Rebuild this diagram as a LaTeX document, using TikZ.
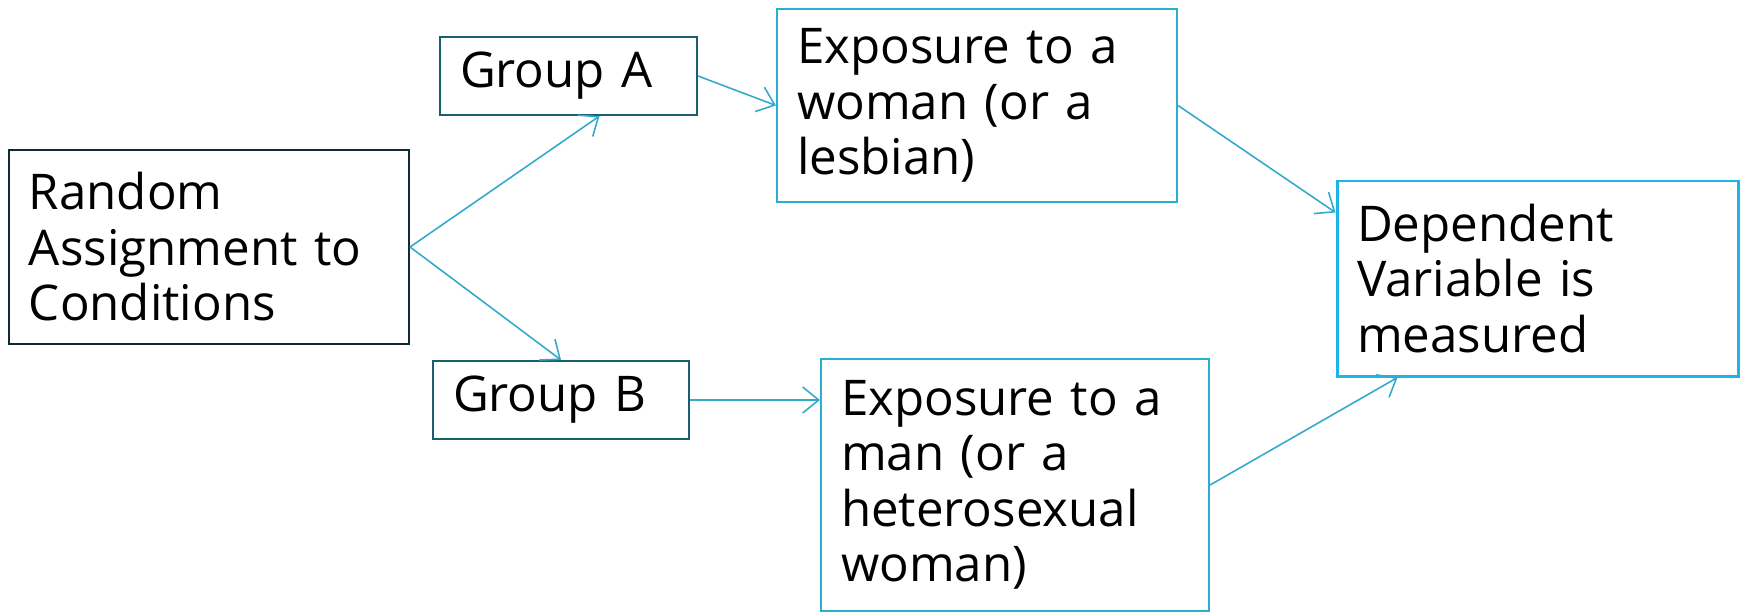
\documentclass[tikz,border=0pt]{standalone}
\usepackage{fontspec}
\setmainfont{Open Sans}
\usepackage{tikz}
\usetikzlibrary{arrows.meta,positioning}
\usepackage{xcolor}
\definecolor{rdark}{RGB}{15,42,51}
\definecolor{rteal}{RGB}{27,94,112}
\definecolor{rcyan}{RGB}{42,175,208}
\definecolor{rbright}{RGB}{27,182,230}
\definecolor{rarrow}{RGB}{52,170,203}
\tikzstyle{box} = [rectangle, line width=0.6pt, fill=white, inner xsep=0.2cm, inner ysep=0pt, align=left, font=\fontsize{14}{15.8}\selectfont]
\tikzstyle{arrow} = [line width=0.45pt, color=rarrow, -{Straight Barb[length=0.16cm,width=0.26cm]}]

\begin{document}
\begin{tikzpicture}
    \useasboundingbox (0,0) rectangle (17.42,-6.12);

    % Start
    \node[box, draw=rdark, text width=3.6cm, minimum height=1.94cm] (rand) at (2.09,-2.47) {Random\\Assignment to\\Conditions};

    % Groups
    \node[box, draw=rteal, text width=2.17cm, minimum height=0.78cm] (grpA) at (5.685,-0.76) {Group A};
    \node[box, draw=rteal, text width=2.16cm, minimum height=0.78cm] (grpB) at (5.61,-4.00) {Group B};

    % Exposure
    \node[box, draw=rcyan, text width=3.6cm, minimum height=1.93cm] (expW) at (9.77,-1.055) {Exposure to a\\woman (or a\\lesbian)};
    \node[box, draw=rcyan, text width=3.48cm, minimum height=2.52cm] (expM) at (10.15,-4.85) {Exposure to a\\man (or a\\heterosexual\\woman)};

    % Outcome
    \node[box, draw=rbright, line width=0.85pt, text width=3.61cm, minimum height=1.95cm] (dep) at (15.375,-2.785) {Dependent\\Variable is\\measured};

    % Arrows
    \draw[arrow] (rand.east) -- ([xshift=0.31cm]grpA.south);
    \draw[arrow] (rand.east) -- (grpB.north);
    \draw[arrow] (grpA.east) -- (expW.west);
    \draw[arrow] (grpB.east) -- (grpB.east -| expM.west);
    \draw[arrow] (expW.east) -- ([yshift=-0.33cm]dep.north west);
    \draw[arrow] (expM.east) -- ([xshift=0.62cm]dep.south west);
\end{tikzpicture}
\end{document}
